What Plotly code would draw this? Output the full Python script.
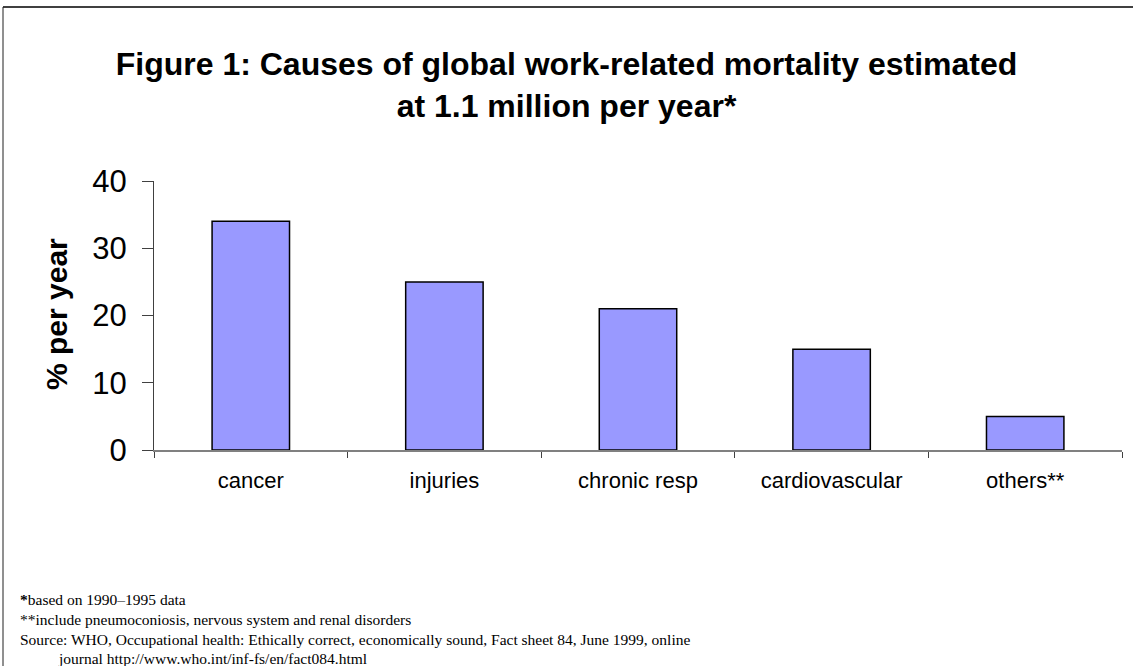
import plotly.graph_objects as go

categories = ["cancer", "injuries", "chronic resp", "cardiovascular", "others**"]
values = [34, 25, 21, 15, 5]
y_ticks = [0, 10, 20, 30, 40]

title_text = "Figure 1: Causes of global work-related mortality estimated<br>at 1.1 million per year*"
y_title = "% per year"
notes = [
    "<b>*</b>based on 1990\u20131995 data",
    "**include pneumoconiosis, nervous system and renal disorders",
    "Source: WHO, Occupational health: Ethically correct, economically sound, Fact sheet 84, June 1999, online",
    "journal http://www.who.int/inf-fs/en/fact084.html",
]

W, H = 1133, 666
L, R, T, B = 154, 1122, 181, 450
pw, ph = R - L, B - T

def px(x):
    return (x - L) / pw

def py(y):
    return (B - y) / ph

fig = go.Figure(go.Bar(
    x=categories, y=values,
    marker=dict(color="#9999FF", line=dict(color="black", width=1.5)),
    width=0.4,
))

annotations = []
note_y = [599, 619, 639, 658]
note_x = [18, 18, 18, 56]
for t, yy, xx in zip(notes, note_y, note_x):
    annotations.append(dict(
        text=t, x=px(xx), y=py(yy), xref="paper", yref="paper",
        xanchor="left", yanchor="middle", showarrow=False,
        font=dict(family="Liberation Serif", size=15.5, color="black"),
    ))
annotations.append(dict(
    text="<b>" + y_title + "</b>", x=px(56), y=py(314), xref="paper", yref="paper",
    xanchor="center", yanchor="middle", showarrow=False, textangle=-90,
    font=dict(family="Liberation Sans", size=30, color="black"),
))

fig.update_layout(
    width=W, height=H,
    margin=dict(l=L, r=W - R, t=T, b=H - B),
    paper_bgcolor="white", plot_bgcolor="white",
    showlegend=False,
    title=dict(text="<b>" + title_text + "</b>", x=0.5, xref="container", xanchor="center",
               y=1 - 75 / H, yref="container", yanchor="middle",
               font=dict(family="Liberation Sans", size=32, color="black")),
    xaxis=dict(
        showline=True, linecolor="#808080", linewidth=1.5,
        ticks="outside", ticklen=6, tickcolor="#404040", tickson="boundaries",
        tickfont=dict(family="Liberation Sans", size=22, color="black"),
        ticklabelstandoff=10, showgrid=False, zeroline=False,
    ),
    yaxis=dict(
        range=[0, 40], tickvals=y_ticks,
        showline=True, linecolor="#404040", linewidth=1,
        ticks="outside", ticklen=11, tickcolor="#404040",
        tickfont=dict(family="Liberation Sans", size=31, color="black"),
        ticklabelstandoff=9, showgrid=False, zeroline=False,
    ),
    annotations=annotations,
    shapes=[
        dict(type="line", xref="paper", yref="paper", x0=px(3), x1=px(1140), y0=py(7), y1=py(7),
             line=dict(color="#404040", width=2)),
        dict(type="line", xref="paper", yref="paper", x0=px(3), x1=px(3), y0=py(7), y1=py(670),
             line=dict(color="#202020", width=1)),
    ],
)

fig.write_html("out.html", config={"displayModeBar": False},
               post_script="document.body.style.margin='0';document.body.style.padding='0';")
